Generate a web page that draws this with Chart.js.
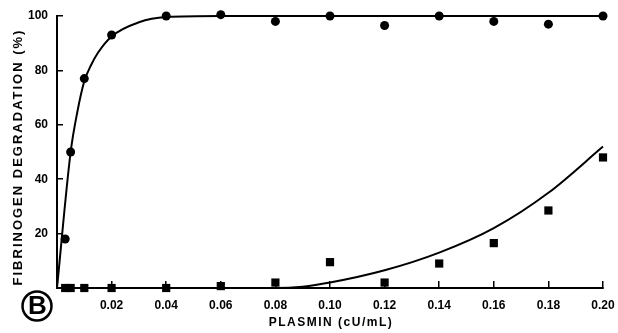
<!DOCTYPE html>
<html>
<head>
<meta charset="utf-8">
<script src="https://cdn.jsdelivr.net/npm/chart.js@4.4.1/dist/chart.umd.min.js"></script>
<style>
    html, body { margin: 0; padding: 0; background: #fff; }
    #wrap { position: relative; width: 618px; height: 333px; }
</style>
</head>
<body>
<div id="wrap"><canvas id="degradationChart" width="618" height="333"></canvas></div>
<script>
// measured points (circles = fibrinogen, squares = second substrate)
const circleX = [0.003, 0.005, 0.01, 0.02, 0.04, 0.06, 0.08, 0.10, 0.12, 0.14, 0.16, 0.18, 0.20];
const circleY = [18, 50, 77, 93, 100, 100.5, 98, 100, 96.5, 100, 98, 97, 100];
const squareX = [0.003, 0.005, 0.01, 0.02, 0.04, 0.06, 0.08, 0.10, 0.12, 0.14, 0.16, 0.18, 0.20];
const squareY = [0, 0, 0, 0, 0, 0.7, 2, 9.5, 2, 9, 16.5, 28.5, 48];

// fitted curves
const fitUpperX = [0, 0.005, 0.0075, 0.01, 0.0125, 0.015, 0.02, 0.03, 0.04, 0.06, 0.20];
const fitUpperY = [0, 50, 65, 76, 82, 86.5, 92.5, 97.7, 99.6, 100, 100];
const fitLowerX = [0, 0.08, 0.09, 0.10, 0.12, 0.14, 0.16, 0.18, 0.20];
const fitLowerY = [0, 0, 0.5, 2, 6.5, 13, 22, 35, 52];

const xTickLabels = ["", "0.02", "0.04", "0.06", "0.08", "0.10", "0.12", "0.14", "0.16", "0.18", "0.20"];
const yTickLabels = ["", "20", "40", "60", "80", "100"];

const xTitle = "PLASMIN (cU/mL)";
const yTitle = "FIBRINOGEN DEGRADATION (%)";
const panelLabel = "B";

function toPoints(xs, ys) {
    return xs.map((x, i) => ({ x: x, y: ys[i] }));
}

const titlesPlugin = {
    id: "titles",
    afterDraw(chart) {
        const ctx = chart.ctx;
        const area = chart.chartArea;
        ctx.save();
        ctx.fillStyle = "#000";
        ctx.textAlign = "center";
        ctx.textBaseline = "middle";
        ctx.font = "bold 12px 'Liberation Sans', Arial, sans-serif";
        ctx.letterSpacing = "1.5px";
        ctx.fillText(xTitle, (area.left + area.right) / 2 + 1, 323);

        ctx.save();
        ctx.translate(18, (area.top + area.bottom) / 2 + 5);
        ctx.rotate(-Math.PI / 2);
        ctx.font = "bold 13px 'Liberation Sans', Arial, sans-serif";
        ctx.letterSpacing = "2px";
        ctx.fillText(yTitle, 0, 0);
        ctx.restore();

        // circled panel letter
        ctx.letterSpacing = "0px";
        ctx.lineWidth = 2.5;
        ctx.strokeStyle = "#000";
        ctx.beginPath();
        ctx.arc(37, 306, 14.5, 0, Math.PI * 2);
        ctx.stroke();
        ctx.font = "bold 26px 'Liberation Sans', Arial, sans-serif";
        ctx.fillText(panelLabel, 37.5, 307);
        ctx.restore();
    }
};

const ctx = document.getElementById("degradationChart").getContext("2d");

new Chart(ctx, {
    type: "scatter",
    data: {
        datasets: [{
            label: "Fibrinogen",
            data: toPoints(circleX, circleY),
            pointStyle: "circle",
            pointRadius: 4.5,
            backgroundColor: "#000",
            borderColor: "#000",
            borderWidth: 0,
            clip: false
        }, {
            label: "Other",
            data: toPoints(squareX, squareY),
            pointStyle: "rect",
            pointRadius: 5.8,
            backgroundColor: "#000",
            borderColor: "#000",
            borderWidth: 0,
            clip: false
        }, {
            label: "Fit upper",
            data: toPoints(fitUpperX, fitUpperY),
            showLine: true,
            pointRadius: 0,
            borderColor: "#000",
            borderWidth: 2,
            cubicInterpolationMode: "monotone",
            clip: false
        }, {
            label: "Fit lower",
            data: toPoints(fitLowerX, fitLowerY),
            showLine: true,
            pointRadius: 0,
            borderColor: "#000",
            borderWidth: 2,
            cubicInterpolationMode: "monotone",
            clip: false
        }]
    },
    options: {
        responsive: false,
        animation: false,
        events: [],
        layout: {
            padding: { left: 0, right: 15, top: 16, bottom: 0 }
        },
        plugins: {
            legend: { display: false },
            tooltip: { enabled: false }
        },
        scales: {
            x: {
                type: "linear",
                min: 0,
                max: 0.2,
                afterFit(scale) {
                    scale.height = 45;
                    scale.paddingLeft = 0;
                    scale.paddingRight = 0;
                },
                border: { display: true, color: "#000", width: 2 },
                grid: {
                    drawOnChartArea: false,
                    drawTicks: true,
                    tickLength: -7,
                    color: "#000",
                    lineWidth: 1.5
                },
                ticks: {
                    stepSize: 0.02,
                    padding: 17,
                    color: "#000",
                    maxRotation: 0,
                    autoSkip: false,
                    font: { family: "'Liberation Sans', Arial, sans-serif", size: 12, weight: "bold" },
                    callback(value, index) {
                        return xTickLabels[index];
                    }
                }
            },
            y: {
                min: 0,
                max: 100,
                afterFit(scale) {
                    scale.width = 57;
                    scale.paddingTop = 0;
                    scale.paddingBottom = 0;
                },
                border: { display: true, color: "#000", width: 2 },
                grid: {
                    drawOnChartArea: false,
                    drawTicks: true,
                    tickLength: -6,
                    color: "#000",
                    lineWidth: 1.5
                },
                ticks: {
                    stepSize: 20,
                    padding: 15,
                    color: "#000",
                    font: { family: "'Liberation Sans', Arial, sans-serif", size: 12, weight: "bold" },
                    callback(value, index) {
                        return yTickLabels[index];
                    }
                }
            }
        }
    },
    plugins: [titlesPlugin]
});
</script>
</body>
</html>
